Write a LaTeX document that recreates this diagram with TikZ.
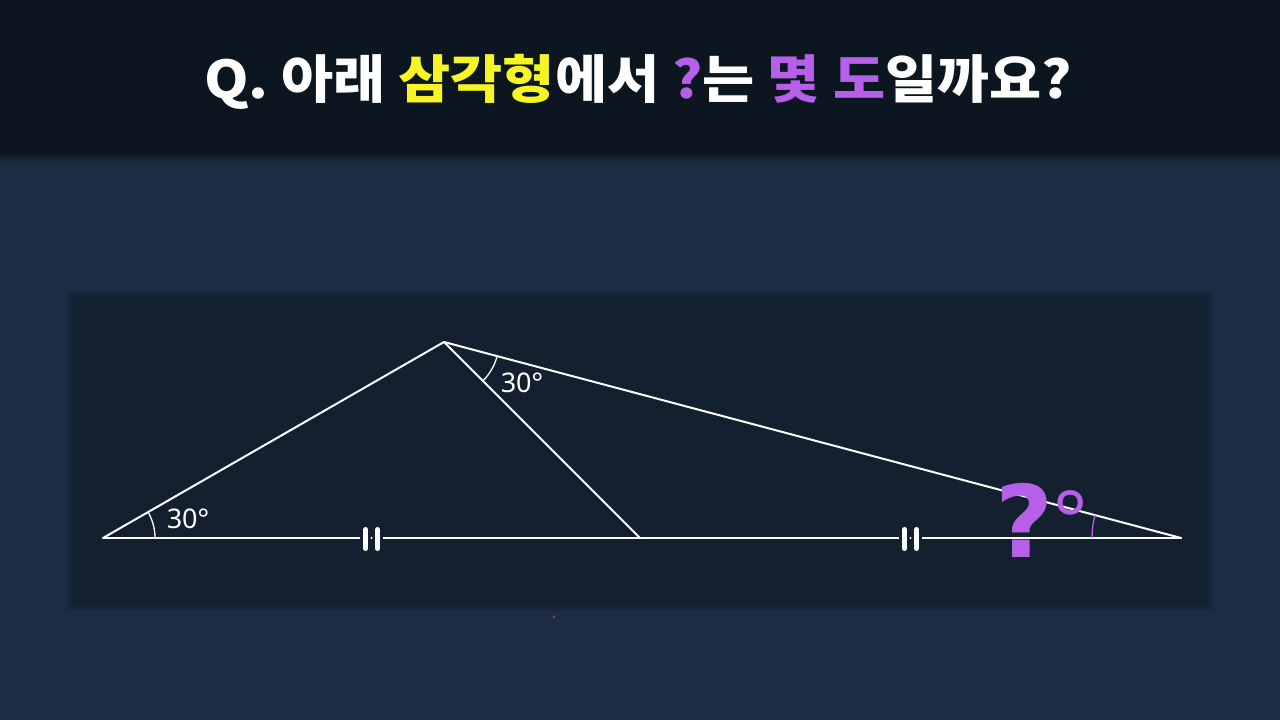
\documentclass[tikz,border=0pt]{standalone}
\usepackage{fontspec}
\usetikzlibrary{calc}
\newfontfamily\kr{Noto Sans CJK KR}
\newfontfamily\lab{Noto Sans}
\newfontfamily\qfont{DejaVu Sans}
\definecolor{bg}{HTML}{1B2D43}
\definecolor{hdr}{HTML}{0B1620}
\definecolor{panel}{HTML}{122030}
\definecolor{qyel}{HTML}{F7F425}
\definecolor{qpur}{HTML}{B660EA}
\definecolor{dotred}{HTML}{C03040}
\begin{document}
\begin{tikzpicture}[x=1pt,y=1pt,
  fig/.style={white, line width=2pt, line cap=round, line join=round},
  anglearc/.style={white, line width=1.3pt},
  tickbar/.style={white, line width=5pt, line cap=round},
  anglelab/.style={white, font=\lab\fontsize{27}{30}\selectfont, anchor=base, inner sep=0pt}]
\useasboundingbox (0,0) rectangle (1280,720);
\fill[bg] (0,0) rectangle (1280,720);
% header
\foreach \d in {8,5,2} \fill[black, opacity=0.12] (0,565-\d) rectangle (1280,720);
\fill[hdr] (0,565) rectangle (1280,720);
% panel with soft edges
\foreach \d in {6,4,2} \fill[panel, opacity=0.25] (72-\d,115-\d) rectangle (1208+\d,423+\d);
\fill[panel] (72,115) rectangle (1208,423);
% title
\node[white, font=\kr\bfseries\fontsize{52}{60}\selectfont, inner sep=0pt] (title) at (638,638)
  {\scalebox{1.09}[1]{Q. 아래 \textcolor{qyel}{삼각형}에서 \textcolor{qpur}{?}는 \textcolor{qpur}{몇 도}일까요?}};
% points
\coordinate (A) at (103,182);
\coordinate (B) at (444,378);
\coordinate (D) at (640,182);
\coordinate (C) at (1181,182);
% triangle
\draw[fig] (A) -- (B) -- (C);
\draw[fig] (A) -- (C);
\draw[fig] (B) -- (D);
% angle arcs
\draw[anglearc] ($(A)+(0:52)$) arc[start angle=0, end angle=30, radius=52];
\draw[anglearc] ($(B)+(-45:55)$) arc[start angle=-45, end angle=-14.9, radius=55];
\draw[qpur, line width=1.3pt] ($(C)+(180:89)$) arc[start angle=180, end angle=165.1, radius=89];
% equal-length ticks
\foreach \m in {371.5,910.5}{
  \fill[panel] (\m-11.5,176) rectangle (\m+11.5,188);
  \draw[tickbar] (\m-6,171.5) -- (\m-6,190.5);
  \draw[tickbar] (\m+6,171.5) -- (\m+6,190.5);
  \fill[white] (\m,182) circle (1.1);
}
% labels
\node[anglelab] (la) at (188,191) {30°};
\node[anglelab] (lb) at (522,327) {30°};
\node[qpur, anchor=base, inner sep=0pt] (q) at (1042,162)
  {{\qfont\bfseries\fontsize{100}{100}\selectfont ?}\raisebox{9pt}{\lab\fontsize{80}{80}\selectfont °}};
% small red dot
\fill[dotred] (554,103) circle (1.5);
\end{tikzpicture}
\end{document}
